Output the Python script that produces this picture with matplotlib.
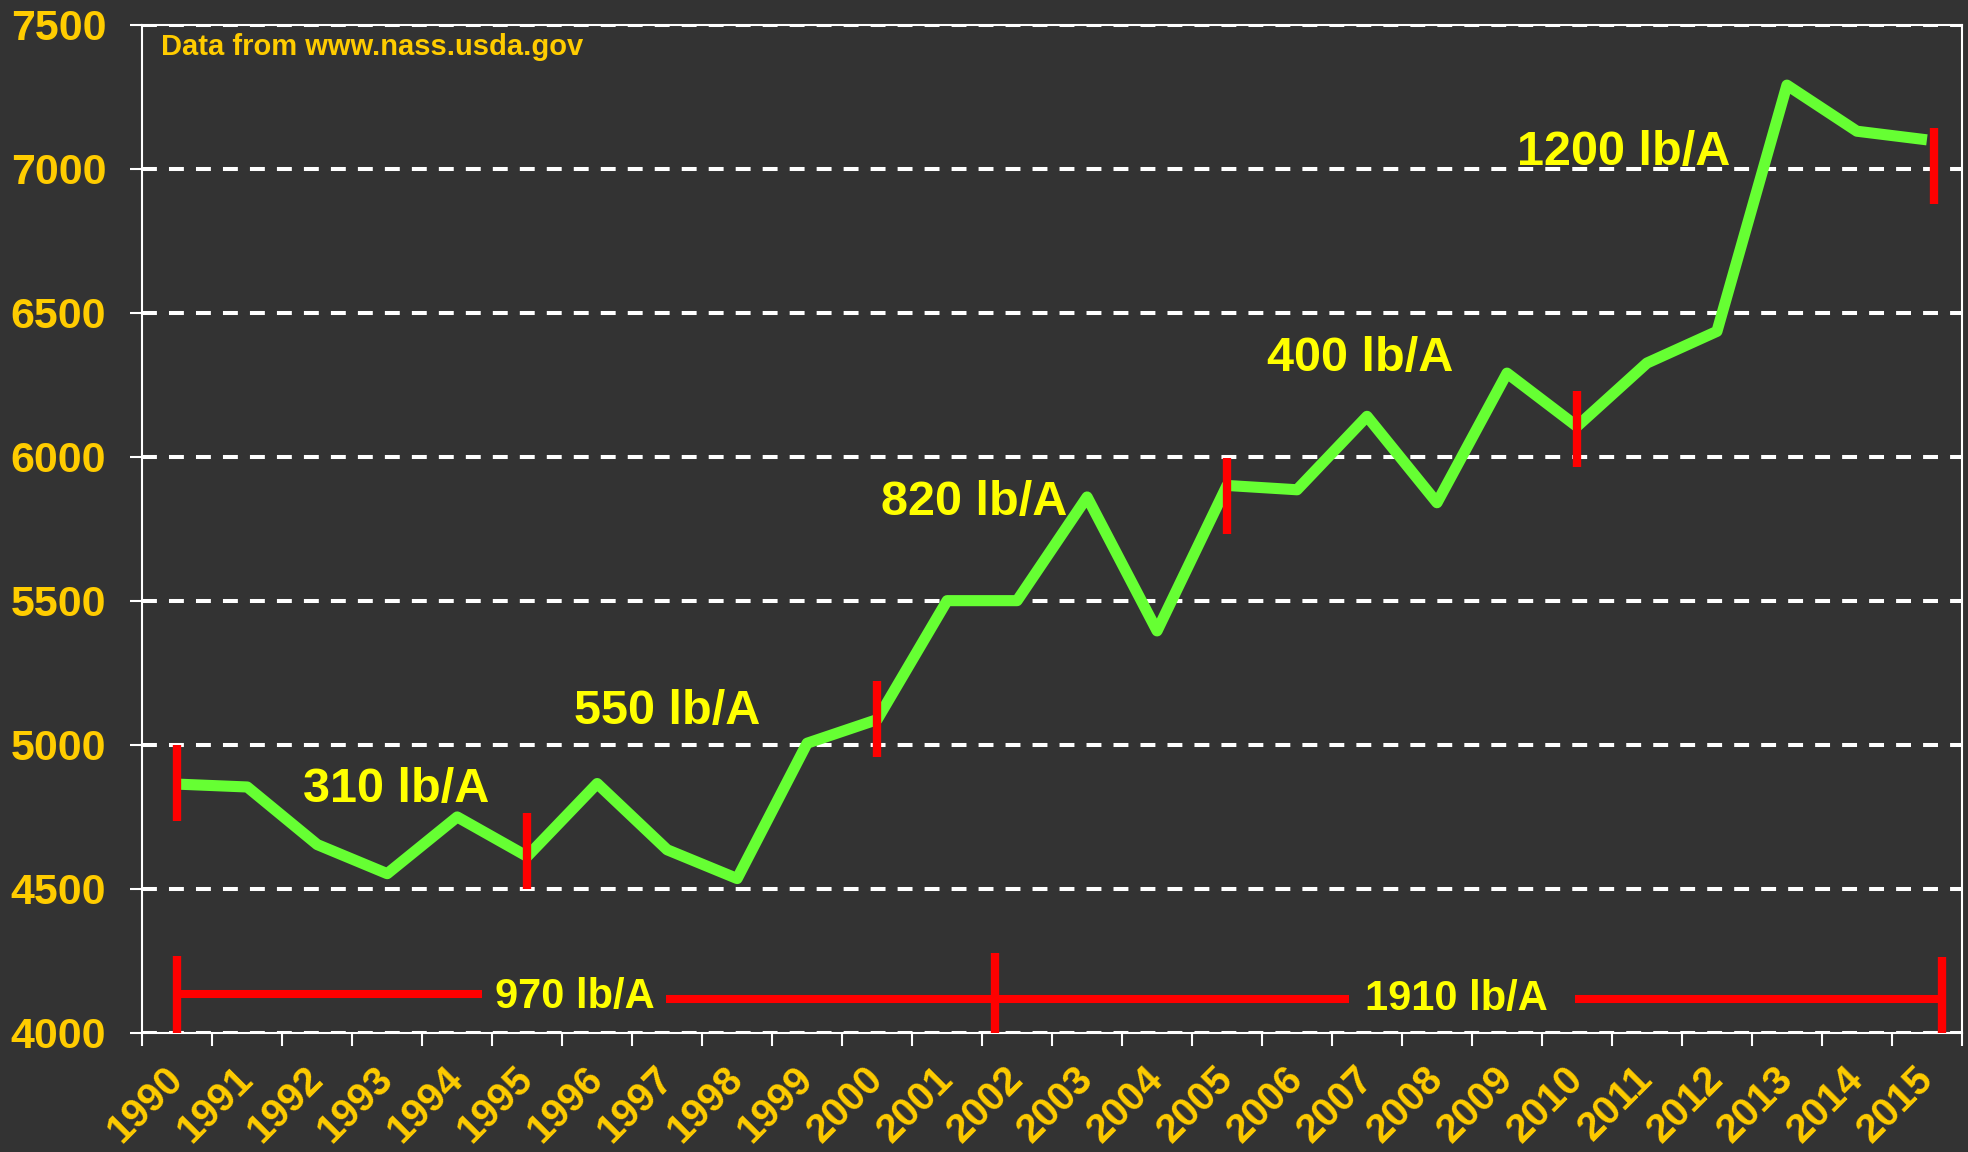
import matplotlib

matplotlib.use("Agg")
import matplotlib.pyplot as plt

# yearly yield, lb/A
years = list(range(1990, 2016))
yield_lb = [4863, 4853, 4653, 4552, 4749, 4612, 4865, 4635, 4535, 5005,
            5087, 5500, 5500, 5860, 5395, 5900, 5885, 6140, 5840, 6290,
            6105, 6325, 6435, 7290, 7130, 7100]

# red period markers (year, low, high)
marker_years = [1990, 1995, 2000, 2005, 2010, 2015.1]
marker_lo = [4736, 4499, 4957, 5731, 5965, 6876]
marker_hi = [5000, 4763, 5222, 5994, 6229, 7141]

# five-year gain labels
period_text = ["310 lb/A", "550 lb/A", "820 lb/A", "400 lb/A", "1200 lb/A"]
period_x = [1993.13, 1997.0, 2001.38, 2006.9, 2010.67]
period_y = [4802, 5072, 5797, 6299, 7013]

# long-span bracket along the bottom
bracket_years = [1990, 2001.68, 2015.22]
bracket_top = [4265, 4276, 4263]
bracket_seg_start = [1990, 1996.98, 2001.68, 2009.97]
bracket_seg_end = [1994.35, 2001.68, 2006.74, 2015.22]
bracket_seg_y = [4133, 4116, 4117, 4117]
span_text = ["970 lb/A", "1910 lb/A"]
span_x = [1995.68, 2008.27]
span_y = [4085, 4079]

y_ticks = [4000, 4500, 5000, 5500, 6000, 6500, 7000, 7500]

BG = "#333333"
GOLD = "#FFCC00"
YELLOW = "#FFFF00"

plt.rcParams["font.family"] = ["Liberation Sans", "DejaVu Sans"]
plt.rcParams["font.weight"] = "bold"

fig = plt.figure(figsize=(19.68, 11.52), dpi=100, facecolor=BG)
ax = fig.add_axes([0.0723, 0.1036, 0.9246, 0.875])
ax.set_facecolor(BG)

ax.plot(years, yield_lb, color="#66FF33", lw=8, solid_joinstyle="round",
        solid_capstyle="butt", zorder=3)

ax.vlines(marker_years, marker_lo, marker_hi, color="red", lw=6, zorder=4)
ax.vlines(bracket_years, [y_ticks[0]] * len(bracket_years), bracket_top,
          color="red", lw=6, zorder=4)
ax.hlines(bracket_seg_y, bracket_seg_start, bracket_seg_end, color="red",
          lw=5.8, zorder=4)

for s, x, y in zip(period_text, period_x, period_y):
    ax.text(x, y, s, ha="center", va="baseline", fontsize=35, color=YELLOW, zorder=5)
for s, x, y in zip(span_text, span_x, span_y):
    ax.text(x, y, s, ha="center", va="baseline", fontsize=30, color=YELLOW, zorder=5)

ax.text(0.0101, 0.970, "Data from www.nass.usda.gov", transform=ax.transAxes,
        ha="left", va="baseline", fontsize=21, color=GOLD)

ax.set_xlim(years[0] - 0.5, years[-1] + 0.5)
ax.set_ylim(y_ticks[0], y_ticks[-1])
ax.set_yticks(y_ticks)
ax.set_xticks(years)
ax.set_xticks([y - 0.5 for y in years] + [years[-1] + 0.5], minor=True)
ax.set_xticklabels([str(y) for y in years])

ax.set_axisbelow(True)
ax.grid(axis="y", color="white", lw=2.9, linestyle=(0, (3.7, 3.0)))

for sp in ax.spines.values():
    sp.set_color("white")
    sp.set_linewidth(1.5)

ax.tick_params(axis="y", length=9, width=1.5, color="white", pad=17,
               labelsize=31, labelcolor=GOLD)
ax.tick_params(axis="x", which="major", length=0, pad=29, labelsize=29,
               labelcolor=GOLD)
ax.tick_params(axis="x", which="minor", length=9, width=1.5, color="white")
for lbl in ax.get_xticklabels():
    lbl.set_rotation(45)
    lbl.set_ha("right")
    lbl.set_va("center")
    lbl.set_rotation_mode("anchor")

fig.savefig("out.png", dpi=100, facecolor=fig.get_facecolor())
plt.close(fig)
